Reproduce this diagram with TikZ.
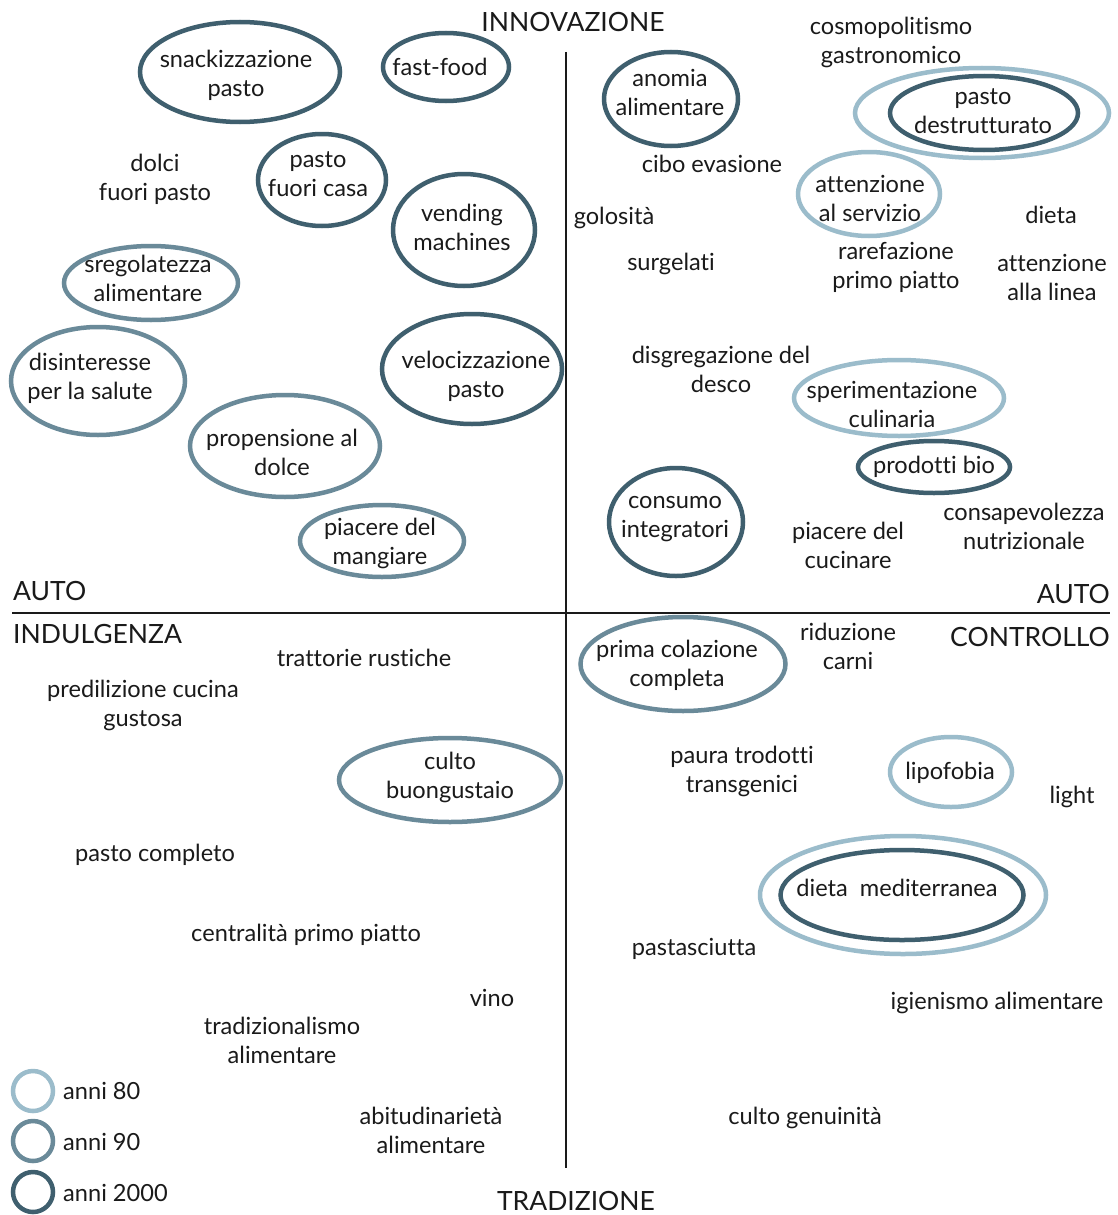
\documentclass[tikz,border=0pt]{standalone}
\usepackage{fontspec}
\setmainfont{Lato}[Ligatures={NoCommon}]
\usetikzlibrary{shapes.geometric}
\definecolor{eraA}{HTML}{9BBCCB}
\definecolor{eraB}{HTML}{6A8A99}
\definecolor{eraC}{HTML}{3F5F6E}
\definecolor{ink}{HTML}{1A1A1A}
\tikzset{
  txt/.style={text=ink, align=center, inner sep=0pt, yshift=-2pt, font=\fontsize{23.6}{29}\selectfont},
  axislbl/.style={text=ink, inner sep=0pt, yshift=-1pt, font=\fontsize{26.5}{30}\selectfont},
  ring/.style={draw=#1, line width=4.5pt, ellipse, inner sep=0pt},
  ringA/.style={ring=eraA},
  ringB/.style={ring=eraB},
  ringC/.style={ring=eraC},
  axisline/.style={draw=ink, line width=2.6pt},
}
\newcommand{\eraring}[6]{% name, style, x, y, width, height
  \node[#2, minimum width=#5pt, minimum height=#6pt] (#1) at (#3,#4) {};}
\begin{document}
\begin{tikzpicture}[x=1pt,y=-1pt]
\useasboundingbox (0,0) rectangle (1117,1215);
\fill[white] (0,0) rectangle (1117,1215);

% axes
\coordinate (top) at (566,52);
\coordinate (bottom) at (566,1168);
\coordinate (left) at (12,613);
\coordinate (right) at (1110,613);
\draw[axisline] (top) -- (bottom);
\draw[axisline] (left) -- (right);

\node[axislbl] (innov) at (573,21) {INNOVAZIONE};
\node[axislbl] (trad) at (576,1200) {TRADIZIONE};
\node[axislbl, anchor=west] (autoL) at (13,590) {AUTO};
\node[axislbl, anchor=west] (indul) at (13,633) {INDULGENZA};
\node[axislbl, anchor=east] (autoR) at (1110,593) {AUTO};
\node[axislbl, anchor=east] (contr) at (1110,636) {CONTROLLO};

% rings
\eraring{oSnack}{ringC}{240}{72}{200}{100}
\eraring{oFast}{ringC}{446}{67}{126}{68}
\eraring{oAnomia}{ringC}{671}{99}{134}{94}
\eraring{oDestrA}{ringA}{982}{113}{254}{90}
\eraring{oDestrC}{ringC}{984}{113}{188}{74}
\eraring{oFuori}{ringC}{322}{180}{128}{92}
\eraring{oVend}{ringC}{464}{230}{142}{112}
\eraring{oServ}{ringA}{869}{194}{142}{84}
\eraring{oSreg}{ringB}{151}{283}{174}{74}
\eraring{oDisint}{ringB}{98}{381}{174}{108}
\eraring{oVeloc}{ringC}{472}{369}{180}{110}
\eraring{oSperim}{ringA}{899}{398}{210}{76}
\eraring{oPropens}{ringB}{285}{446}{190}{102}
\eraring{oBio}{ringC}{934}{467}{152}{52}
\eraring{oIntegr}{ringC}{676}{522}{134}{108}
\eraring{oPiacM}{ringB}{382}{541}{164}{72}
\eraring{oColaz}{ringB}{683}{664}{205}{94}
\eraring{oBuong}{ringB}{450}{780}{222}{84}
\eraring{oLipo}{ringA}{951}{772}{122}{70}
\eraring{oMedA}{ringA}{903}{895}{286}{118}
\eraring{oMedC}{ringC}{902}{895}{243}{90}

% ring captions
\node[txt] (tSnack) at (236,73) {snackizzazione\\pasto};
\node[txt] (tFast) at (440,65) {fast-food};
\node[txt] (tAnomia) at (670,90) {anomia\\alimentare};
\node[txt] (tDestr) at (983,109) {pasto\\destrutturato};
\node[txt] (tFuori) at (318,172) {pasto\\fuori casa};
\node[txt] (tVend) at (462,225) {vending\\machines};
\node[txt] (tServ) at (870,196) {attenzione\\al servizio};
\node[txt] (tSreg) at (148,276) {sregolatezza\\alimentare};
\node[txt] (tDisint) at (90,376) {disinteresse\\per la salute};
\node[txt] (tVeloc) at (476,374) {velocizzazione\\pasto};
\node[txt] (tSperim) at (892,402) {sperimentazione\\culinaria};
\node[txt] (tPropens) at (282,450) {propensione al\\dolce};
\node[txt] (tBio) at (934,465) {prodotti bio};
\node[txt] (tIntegr) at (675,517) {consumo\\integratori};
\node[txt] (tPiacM) at (380,541) {piacere del\\mangiare};
\node[txt] (tColaz) at (677,663) {prima colazione\\completa};
\node[txt] (tBuong) at (450,775) {culto\\buongustaio};
\node[txt] (tLipo) at (950,771) {lipofobia};
\node[txt] (tMed) at (897,886) {dieta\ \ mediterranea};

% free labels
\node[txt] (cosmo) at (891,40) {cosmopolitismo\\gastronomico};
\node[txt] (dolci) at (155,177) {dolci\\fuori pasto};
\node[txt] (evas) at (712,162) {cibo evasione};
\node[txt] (golos) at (614,216) {golosità};
\node[txt] (dieta) at (1051,213) {dieta};
\node[txt] (surg) at (671,262) {surgelati};
\node[txt] (raref) at (896,265) {rarefazione\\primo piatto};
\node[txt] (linea) at (1052,275) {attenzione\\alla linea};
\node[txt] (disgr) at (721,367) {disgregazione del\\desco};
\node[txt] (piacC) at (848,543) {piacere del\\cucinare};
\node[txt] (consap) at (1024,524) {consapevolezza\\nutrizionale};
\node[txt] (tratt) at (364,656) {trattorie rustiche};
\node[txt] (predil) at (143,703) {predilizione cucina\\gustosa};
\node[txt] (ridu) at (848,644) {riduzione\\carni};
\node[txt] (paura) at (742,769) {paura trodotti\\transgenici};
\node[txt] (light) at (1072,795) {light};
\node[txt] (pcompl) at (155,853) {pasto completo};
\node[txt] (centr) at (306,933) {centralità primo piatto};
\node[txt] (pasta) at (694,947) {pastasciutta};
\node[txt] (vino) at (492,996) {vino};
\node[txt] (igien) at (997,1001) {igienismo alimentare};
\node[txt] (tradiz) at (282,1038) {tradizionalismo\\alimentare};
\node[txt] (abit) at (431,1128) {abitudinarietà\\alimentare};
\node[txt] (genu) at (805,1116) {culto genuinità};

% legend
\eraring{kA}{ringA}{33}{1091}{40}{40}
\eraring{kB}{ringB}{33}{1141}{40}{40}
\eraring{kC}{ringC}{33}{1192}{40}{40}
\node[txt, anchor=west] (lA) at (63,1089) {anni 80};
\node[txt, anchor=west] (lB) at (63,1140) {anni 90};
\node[txt, anchor=west] (lC) at (63,1191) {anni 2000};
\end{tikzpicture}
\end{document}
